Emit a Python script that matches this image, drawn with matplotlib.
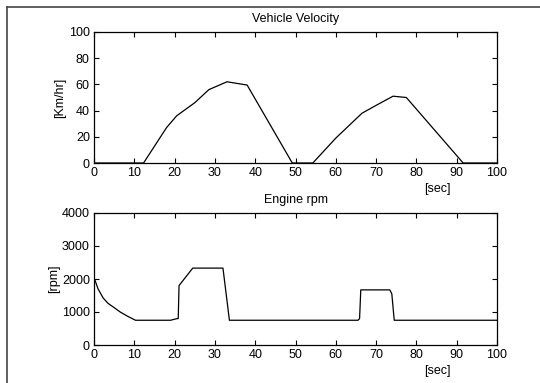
import matplotlib.pyplot as plt
from matplotlib.lines import Line2D

plt.rcParams['font.family'] = ['Liberation Sans', 'DejaVu Sans']

# vehicle speed profile [km/h] vs time [s]
t_vel = [0, 12.3, 18, 20.5, 25, 28.5, 33, 35, 38, 49.2, 54.3, 60, 66.5, 70, 74.2, 77.5, 91.6, 100]
vel = [0, 0, 27, 36, 46, 56, 62, 61, 59.5, 0, 0, 19, 38, 44, 51, 50, 0, 0]

# engine speed [rpm] vs time [s]
t_rpm = [0, 1, 2.3, 3.5, 4.8, 6.5, 8.5, 10.3, 19, 20.6, 20.9, 21.1, 24.5, 32, 33.6,
         65.5, 65.9, 66.2, 73.4, 73.9, 74.5, 100]
rpm = [2050, 1700, 1420, 1260, 1150, 1000, 860, 750, 750, 800, 800, 1800, 2330, 2330, 750,
       750, 800, 1670, 1670, 1550, 750, 750]

fig = plt.figure(figsize=(5.4, 3.83), dpi=100)
W, H = 540, 383

def add_ax(left, top, right, bottom):
    return fig.add_axes([left / W, 1 - bottom / H, (right - left) / W, (bottom - top) / H])

ax1 = add_ax(94, 32, 497, 163)
ax2 = add_ax(94, 213, 497, 345)

for ax in (ax1, ax2):
    ax.set_xlim(0, 100)
    ax.set_xticks(range(0, 101, 10))
    ax.tick_params(direction='in', top=True, right=True, length=3.5, width=0.8,
                   labelsize=9, pad=3)
    for s in ax.spines.values():
        s.set_linewidth(0.9)
    ax.set_xlabel('[sec]', fontsize=9, labelpad=0)
    ax.xaxis.set_label_coords((437 - 94) / 403, -0.15)

ax1.plot(t_vel, vel, color='black', lw=0.9)
ax1.set_ylim(0, 100)
ax1.set_yticks(range(0, 101, 20))
ax1.set_title('Vehicle Velocity', fontsize=9, pad=7)
ax1.set_ylabel('[Km/hr]', fontsize=9, labelpad=2)

ax2.plot(t_rpm, rpm, color='black', lw=0.9)
ax2.set_ylim(0, 4000)
ax2.set_yticks(range(0, 4001, 1000))
ax2.set_title('Engine rpm', fontsize=9, pad=7)
ax2.set_ylabel('[rpm]', fontsize=9, labelpad=1)

# outer frame lines along the top and left edges
fig.add_artist(Line2D([7 / W, 1], [1 - 7 / H, 1 - 7 / H], color='#444444', lw=1.2))
fig.add_artist(Line2D([7 / W, 7 / W], [0, 1 - 7 / H], color='#444444', lw=1.2))

fig.savefig('out.png', dpi=100)
